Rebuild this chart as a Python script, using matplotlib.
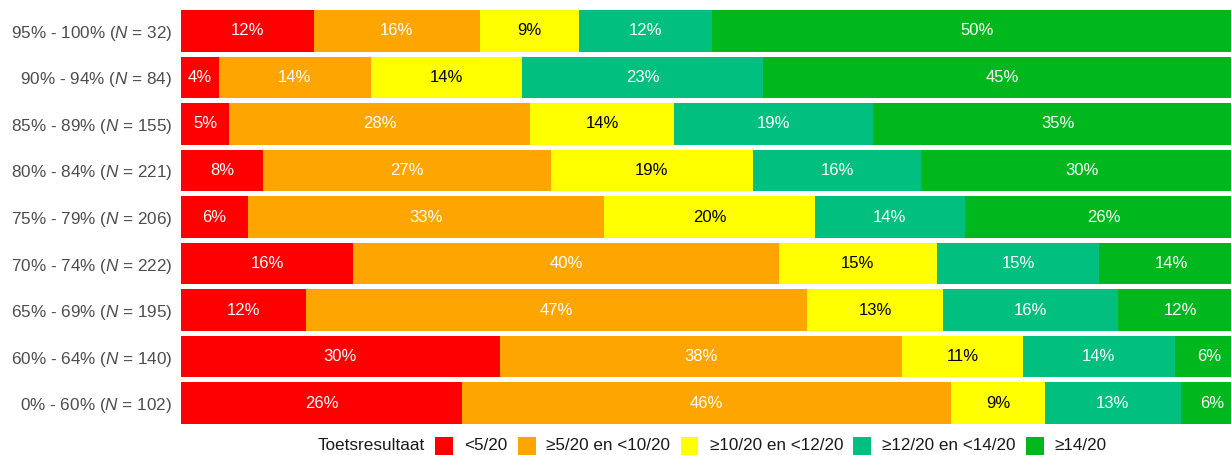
import matplotlib
matplotlib.use("Agg")
import matplotlib.pyplot as plt
from matplotlib.patches import Rectangle
import numpy as np

plt.rcParams["font.family"] = ["Liberation Sans", "DejaVu Sans"]
plt.rcParams["mathtext.fontset"] = "custom"
plt.rcParams["mathtext.rm"] = "Liberation Sans"
plt.rcParams["mathtext.it"] = "Liberation Sans:italic"

# Score bands (top to bottom) and group sizes
bands = ["95% - 100%", "90% - 94%", "85% - 89%", "80% - 84%", "75% - 79%",
         "70% - 74%", "65% - 69%", "60% - 64%", "0% - 60%"]
group_n = [32, 84, 155, 221, 206, 222, 195, 140, 102]

# Student counts per test-result category, per band
cnt_lt5 = [4, 3, 7, 17, 13, 36, 23, 42, 27]
cnt_5_10 = [5, 12, 44, 60, 69, 89, 92, 53, 47]
cnt_10_12 = [3, 12, 21, 42, 41, 33, 25, 16, 9]
cnt_12_14 = [4, 19, 29, 35, 29, 34, 32, 20, 13]
cnt_ge14 = [16, 38, 54, 67, 54, 30, 23, 9, 6]

categories = ["<5/20", "≥5/20 en <10/20", "≥10/20 en <12/20",
              "≥12/20 en <14/20", "≥14/20"]
colors = ["#FF0000", "#FFA500", "#FFFF00", "#00BF7F", "#00B81E"]
text_colors = ["white", "white", "black", "white", "white"]

counts = np.array([cnt_lt5, cnt_5_10, cnt_10_12, cnt_12_14, cnt_ge14], dtype=float)
pct = counts / np.array(group_n, dtype=float) * 100.0

W, H = 1231, 455
fig = plt.figure(figsize=(W / 100, H / 100), dpi=100)
# panel runs slightly past the right edge of the canvas
ax = fig.add_axes([181 / W, 1 - 424 / H, 1062 / W, 414 / H])

y = np.arange(len(bands))
left = np.zeros(len(bands))
for k in range(len(categories)):
    ax.barh(y, pct[k], left=left, height=0.9, color=colors[k],
            edgecolor="none", label=categories[k])
    for i in range(len(bands)):
        ax.text(left[i] + pct[k][i] / 2, y[i], f"{int(round(pct[k][i]))}%",
                ha="center", va="center", color=text_colors[k], fontsize=12)
    left += pct[k]

ax.set_xlim(0, 100)
ax.set_ylim(len(bands) - 0.55, -0.45)
ax.set_yticks(y)
ax.set_yticklabels([f"{b} ($N$ = {n})" for b, n in zip(bands, group_n)],
                   fontsize=12.3, color="#4D4D4D")
ax.tick_params(axis="y", length=0, pad=6.5)
ax.set_xticks([])
for s in ax.spines.values():
    s.set_visible(False)

# Legend row along the bottom edge
fig.canvas.draw()
renderer = fig.canvas.get_renderer()
ycen = 446
x = 318
t = fig.text(x / W, 1 - ycen / H, "Toetsresultaat", fontsize=12.3,
             color="#1A1A1A", ha="left", va="center")
x = t.get_window_extent(renderer).x1 + 10
sq = 18
for c, lab in zip(colors, categories):
    fig.patches.append(Rectangle((x / W, 1 - (ycen + sq / 2) / H), sq / W, sq / H,
                                 transform=fig.transFigure, facecolor=c,
                                 edgecolor="none"))
    x += sq + 11
    t = fig.text(x / W, 1 - ycen / H, lab, fontsize=12.3, color="#1A1A1A",
                 ha="left", va="center")
    x = t.get_window_extent(renderer).x1 + 10

fig.savefig("out.png", dpi=100)
